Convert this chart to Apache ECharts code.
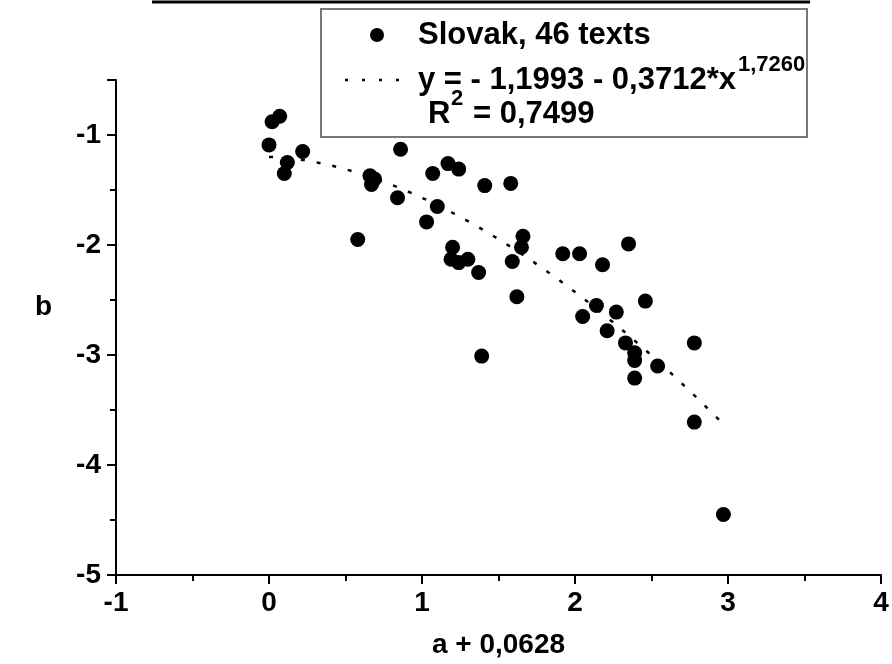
<!DOCTYPE html>
<html>
<head>
<meta charset="utf-8">
<script src="https://cdn.jsdelivr.net/npm/echarts@6/dist/echarts.min.js"></script>
<style>
  html, body { margin: 0; padding: 0; background: #fff; }
  #chart { width: 892px; height: 664px; }
</style>
</head>
<body>
<div id="chart"></div>
<script>
// Slovak texts: a + 0,0628 (x) against b (y)
const xValues = [
  0.00, 0.02, 0.07, 0.10, 0.12, 0.22, 0.86, 0.66, 0.69, 0.67,
  0.84, 1.07, 1.17, 1.24, 1.41, 1.58, 1.10, 1.03, 0.58, 1.66,
  1.65, 1.20, 1.19, 1.24, 1.30, 1.59, 1.37, 1.92, 2.03, 2.35,
  2.18, 1.62, 1.39, 2.46, 2.14, 2.27, 2.05, 2.21, 2.33, 2.78,
  2.39, 2.39, 2.54, 2.39, 2.78, 2.97
];
const bValues = [
  -1.09, -0.88, -0.83, -1.35, -1.25, -1.15, -1.13, -1.37, -1.40, -1.45,
  -1.57, -1.35, -1.26, -1.31, -1.46, -1.44, -1.65, -1.79, -1.95, -1.92,
  -2.02, -2.02, -2.13, -2.16, -2.13, -2.15, -2.25, -2.08, -2.08, -1.99,
  -2.18, -2.47, -3.01, -2.51, -2.55, -2.61, -2.65, -2.78, -2.89, -2.89,
  -2.98, -3.05, -3.10, -3.21, -3.61, -4.45
];

// Fitted power curve y = c0 - c1 * x^p, as given in the legend
const fitConst = -1.1993;
const fitCoef = 0.3712;
const fitPower = 1.7260;
const fitStart = 0;
const fitEnd = 2.97;

const xTicks = { min: -1, max: 4, interval: 1 };
const yTicks = { min: -5, max: -0.5, interval: 1 };

const seriesName = 'Slovak, 46 texts';
const equationText = 'y = - 1,1993 - 0,3712*x';
const exponentText = '1,7260';
const r2Text = '= 0,7499';

const points = xValues.map((x, i) => [x, bValues[i]]);
const fitPoints = [];
for (let k = 0; k <= 60; k++) {
  const x = fitStart + (fitEnd - fitStart) * k / 60;
  fitPoints.push([x, fitConst - fitCoef * Math.pow(x, fitPower)]);
}

const FONT = '"Liberation Sans", Arial, sans-serif';
const LEGEND_FONT = 'bold 31px ' + FONT;
const SUP_FONT = 'bold 22px ' + FONT;
const chart = echarts.init(document.getElementById('chart'), null, { renderer: 'canvas' });

// the exponent sits right after the equation text
const eqX = 418;
const eqWidth = echarts.format.getTextRect
  ? echarts.format.getTextRect(equationText, LEGEND_FONT).width
  : 317;

chart.setOption({
  backgroundColor: '#ffffff',
  animation: false,
  grid: { left: 116, right: 11, top: 80, bottom: 89, containLabel: false },
  xAxis: {
    type: 'value',
    min: xTicks.min, max: xTicks.max, interval: xTicks.interval,
    name: 'a + 0,0628',
    nameLocation: 'middle',
    nameGap: 56,
    nameTextStyle: { color: '#000', fontFamily: FONT, fontWeight: 'bold', fontSize: 28 },
    axisLine: { show: true, onZero: false, lineStyle: { color: '#000', width: 2 } },
    axisTick: { show: true, length: 9, lineStyle: { color: '#000', width: 2 } },
    minorTick: { show: true, splitNumber: 2, length: 6, lineStyle: { color: '#000', width: 2 } },
    splitLine: { show: false },
    axisLabel: { color: '#000', fontFamily: FONT, fontWeight: 'bold', fontSize: 28, margin: 14 }
  },
  yAxis: {
    type: 'value',
    min: yTicks.min, max: yTicks.max, interval: yTicks.interval,
    name: 'b',
    nameLocation: 'middle',
    nameRotate: 0,
    nameGap: 64,
    nameTextStyle: {
      color: '#000', fontFamily: FONT, fontWeight: 'bold', fontSize: 28,
      verticalAlign: 'bottom', lineHeight: 40
    },
    axisLine: { show: true, onZero: false, lineStyle: { color: '#000', width: 2 } },
    axisTick: { show: true, length: 9, lineStyle: { color: '#000', width: 2 } },
    minorTick: { show: true, splitNumber: 2, length: 6, lineStyle: { color: '#000', width: 2 } },
    splitLine: { show: false },
    axisLabel: {
      color: '#000', fontFamily: FONT, fontWeight: 'bold', fontSize: 28, margin: 15,
      showMaxLabel: false
    }
  },
  series: [
    {
      name: 'fit',
      type: 'line',
      data: fitPoints,
      showSymbol: false,
      smooth: false,
      lineStyle: { color: '#000', width: 2.5, type: [4, 12] },
      z: 1
    },
    {
      name: seriesName,
      type: 'scatter',
      data: points,
      symbol: 'circle',
      symbolSize: 15,
      itemStyle: { color: '#000', opacity: 1 },
      z: 2
    }
  ],
  graphic: [
    // rule across the top
    { type: 'line', shape: { x1: 152, y1: 2, x2: 810, y2: 2 }, style: { stroke: '#000', lineWidth: 3 } },
    // legend frame
    { type: 'rect', shape: { x: 321, y: 9, width: 486, height: 128 },
      style: { fill: '#fff', stroke: '#777', lineWidth: 2 }, z: 10 },
    { type: 'circle', shape: { cx: 377, cy: 35, r: 7 }, style: { fill: '#000' }, z: 11 },
    { type: 'text', x: 418, y: 35, z: 11,
      style: { text: seriesName, fill: '#000', font: LEGEND_FONT, verticalAlign: 'middle' } },
    { type: 'line', shape: { x1: 345, y1: 80, x2: 412, y2: 80 }, z: 11,
      style: { stroke: '#000', lineWidth: 2.5, lineDash: [3, 14] } },
    { type: 'text', x: eqX, y: 80, z: 11,
      style: { text: equationText, fill: '#000', font: LEGEND_FONT, verticalAlign: 'middle' } },
    { type: 'text', x: eqX + eqWidth + 2, y: 65, z: 11,
      style: { text: exponentText, fill: '#000', font: SUP_FONT, verticalAlign: 'middle' } },
    { type: 'text', x: 428, y: 114, z: 11,
      style: { text: 'R', fill: '#000', font: LEGEND_FONT, verticalAlign: 'middle' } },
    { type: 'text', x: 451, y: 99, z: 11,
      style: { text: '2', fill: '#000', font: SUP_FONT, verticalAlign: 'middle' } },
    { type: 'text', x: 473, y: 114, z: 11,
      style: { text: r2Text, fill: '#000', font: LEGEND_FONT, verticalAlign: 'middle' } }
  ]
});
</script>
</body>
</html>
